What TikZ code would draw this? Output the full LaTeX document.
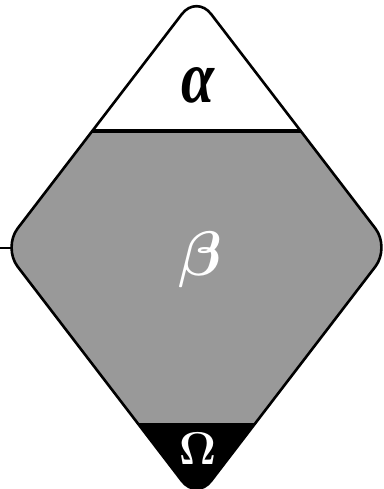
\RequirePackage{fix-cm}
\documentclass[tikz,border=0pt]{standalone}
\usepackage{amsmath}
\usepackage{graphicx}
\usepackage[no-math]{fontspec}
\newfontfamily\timesf{Liberation Serif}
\usetikzlibrary{calc}
\definecolor{midgray}{RGB}{153,153,153}
\tikzset{
  outline/.style={line width=1.3pt, draw=black, line join=round},
  sepline/.style={line width=1.6pt, draw=black},
  lbl/.style={inner sep=0pt, outer sep=0pt}
}
\begin{document}
\begin{tikzpicture}[x=0.5pt,y=-0.5pt]
\useasboundingbox (0,0) rectangle (384,489);
\coordinate (T) at (196.5,-5);
\coordinate (R) at (390,247.5);
\coordinate (B) at (196.5,500);
\coordinate (L) at (3,247.5);
\coordinate (M) at ($(T)!0.5!(R)$);
\def\diamondpath{(M) -- (R) -- (B) -- (L) -- (T) -- cycle}
\begin{scope}
  \clip[rounded corners=12pt] \diamondpath;
  \fill[white] (-10,-20) rectangle (400,131);
  \fill[midgray] (-10,131) rectangle (400,423);
  \fill[black] (-10,423) rectangle (400,520);
\end{scope}
\coordinate (sepL) at ($(L)!0.4614!(T)$);
\coordinate (sepR) at ($(R)!0.4614!(T)$);
\draw[sepline] (sepL) -- (sepR);
\draw[outline, rounded corners=12pt] \diamondpath;
\coordinate (stub) at (0,247.5);
\coordinate (ltip) at (11,247.5);
\draw[line width=1pt] (stub) -- (ltip);
\node[lbl, font=\timesf\bfseries\itshape] (alpha) at (198.5,85.5) {\resizebox{16.5pt}{17.5pt}{α}};
\node[lbl, text=white, font={\fontsize{31.5}{31.5}\selectfont\boldmath}] (beta) at (200,260) {$\beta$};
\node[lbl, text=white, font={\fontsize{23}{23}\selectfont\boldmath}] (omega) at (197.5,449) {$\Omega$};
\end{tikzpicture}
\end{document}
